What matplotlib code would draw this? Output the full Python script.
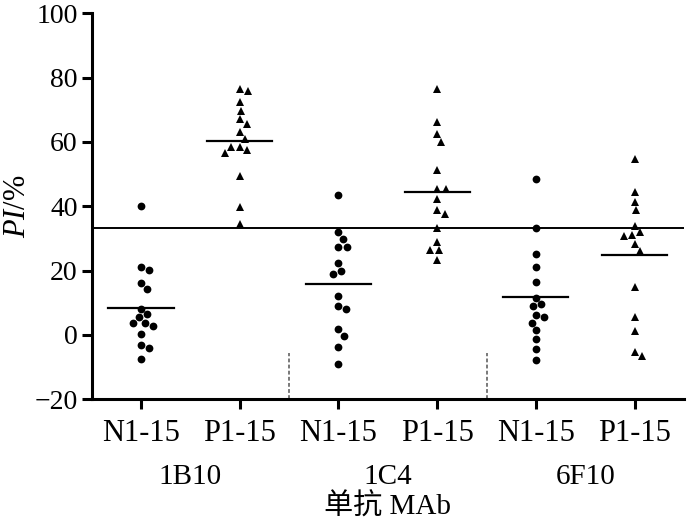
import numpy as np
import matplotlib
matplotlib.use('Agg')
import matplotlib.pyplot as plt
from matplotlib.transforms import blended_transform_factory

# Datos (PI %)
n_1b10 = [40.0, 21.0, 20.1, 16.2, 14.3, 8.2, 6.4, 5.6, 3.8, 3.8, 2.9, 0.2, -3.2, -3.9, -7.6]
p_1b10 = [76.6, 75.9, 72.3, 69.7, 67.0, 65.7, 63.0, 60.9, 58.5, 58.5, 57.4, 56.6, 49.4, 39.8, 34.6]
n_1c4 = [43.5, 32.0, 29.8, 27.2, 27.2, 22.4, 19.9, 19.1, 12.1, 9.1, 8.2, 1.8, -0.3, -3.7, -8.9]
p_1c4 = [76.4, 66.2, 62.4, 60.0, 51.4, 45.5, 45.5, 42.4, 38.8, 37.7, 33.4, 28.9, 26.3, 26.3, 23.4]
n_6f10 = [48.4, 33.4, 25.3, 21.0, 16.6, 11.6, 9.5, 9.0, 6.1, 5.6, 3.8, 1.5, -1.3, -4.4, -7.9]
p_6f10 = [54.6, 44.3, 41.4, 38.8, 33.9, 32.0, 31.2, 30.8, 28.2, 26.1, 14.9, 5.6, 1.2, -5.3, -6.6]

series = [n_1b10, p_1b10, n_1c4, p_1c4, n_6f10, p_6f10]
tick_labels = ['N1-15', 'P1-15', 'N1-15', 'P1-15', 'N1-15', 'P1-15']
groups = ['1B10', '1C4', '6F10']
cutoff = 33.3

serif = ['Liberation Serif', 'Noto Sans CJK SC']
plt.rcParams['font.family'] = serif
plt.rcParams['mathtext.fontset'] = 'custom'
plt.rcParams['mathtext.rm'] = 'Liberation Serif'
plt.rcParams['mathtext.it'] = 'Liberation Serif:italic'

fig = plt.figure(figsize=(7, 5.25), dpi=100)
ax = fig.add_axes([0.131, 0.2394, 0.846, 0.7352])
ax.set_xlim(0.5, 6.5)
ax.set_ylim(-20, 100)

# escala en pixeles para el enjambre
px_x = 0.846 * 700 / 6.0
px_y = 0.7352 * 525 / 120.0


def swarm(vals, d=8.5):
    # beeswarm simple: cada punto busca el desplazamiento mas pequeño sin chocar
    placed = []
    offs = []
    for v in vals:
        yv = v * px_y
        cands = [0.0]
        for (xo, yo) in placed:
            dy = abs(yv - yo)
            if dy < d:
                dx = np.sqrt(d * d - dy * dy)
                cands += [xo + dx, xo - dx]
        cands.sort(key=lambda c: (abs(c), -c))
        for c in cands:
            ok = all((c - xo) ** 2 + (yv - yo) ** 2 >= d * d - 1e-6 for (xo, yo) in placed)
            if ok:
                break
        placed.append((c, yv))
        offs.append(c / px_x)
    return np.array(offs)


for i, vals in enumerate(series):
    pos = i + 1
    mk = 'o' if i % 2 == 0 else '^'
    ms = 5.6 if mk == 'o' else 6.2
    xs = pos + swarm(vals)
    ax.plot(xs, vals, mk, color='black', markersize=ms, markeredgewidth=0, zorder=3)
    m = np.mean(vals)
    ax.plot([pos - 0.33, pos + 0.33], [m, m], color='black', lw=1.6, zorder=2)

ax.axhline(cutoff, color='black', lw=1.4, zorder=1)

for xsep in [2.5, 4.5]:
    ax.plot([xsep, xsep], [-20, -5.5], color='#555555', lw=1.1, ls=(0, (2.5, 1.5)), clip_on=False)

ax.spines['top'].set_visible(False)
ax.spines['right'].set_visible(False)
ax.spines['left'].set_linewidth(2.2)
ax.spines['bottom'].set_linewidth(2.2)

ax.set_yticks([-20, 0, 20, 40, 60, 80, 100])
ax.set_yticklabels(['\u221220', '0', '20', '40', '60', '80', '100'])
ax.set_xticks(range(1, 7))
ax.set_xticklabels(tick_labels)
ax.tick_params(axis='both', direction='out', length=7, width=2.2)
ax.tick_params(axis='y', labelsize=20, pad=3)
ax.tick_params(axis='x', labelsize=22, pad=7)

ax.set_ylabel(r'$\mathit{PI}$/%', fontsize=22)
ax.yaxis.set_label_coords(-0.1, 0.5)

trans = blended_transform_factory(ax.transData, ax.transAxes)
for j, g in enumerate(groups):
    ax.text(2 * j + 1.5, -0.2, g, transform=trans, ha='center', va='center', fontsize=21)

ax.text(0.5, -0.28, '单抗 MAb', transform=ax.transAxes, ha='center', va='center',
        fontsize=21, family=serif)

plt.savefig('out.png', dpi=100)
